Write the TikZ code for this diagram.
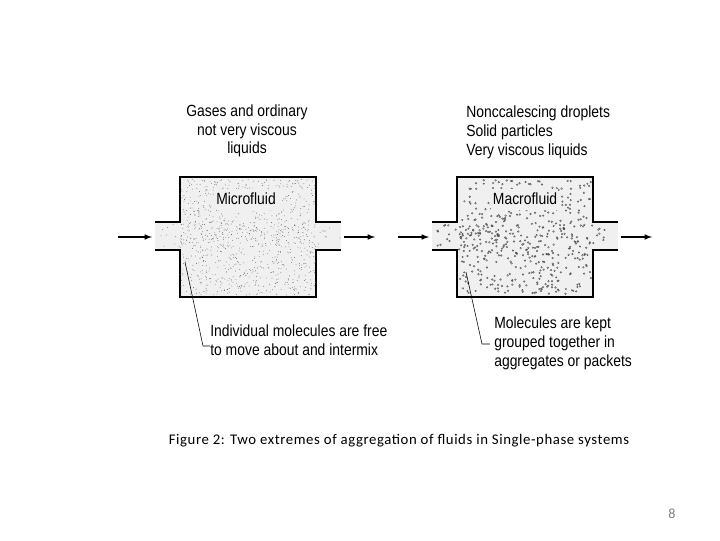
\documentclass[tikz,border=0pt]{standalone}
\usepackage{fontspec}
\setmainfont{Liberation Sans}[FakeStretch=0.86]
\newfontfamily\capfont{Carlito}[LetterSpace=4]
\usetikzlibrary{positioning}

\begin{document}
\begin{tikzpicture}[x=0.025cm, y=-0.025cm,
    wall/.style={line width=1.6pt},
    flow/.style={thick, -latex},
    lbl/.style={font=\fontsize{11.5}{13}\selectfont, align=center, inner sep=0pt},
    note/.style={font=\fontsize{11.5}{13.5}\selectfont, align=left, inner sep=0pt, anchor=west}]
    \useasboundingbox (0,0) rectangle (720,540);
    \pgfmathsetseed{7}

    % vessel outlines (body + pipes)
    \foreach \x/\n in {180/L, 457/R} {
      \fill[gray!12] (\x,177) rectangle ++(136,120);
      \fill[gray!12] (\x-25,222) rectangle ++(186,28);
      \draw[wall] (\x-25,222) -- (\x,222) -- (\x,177) -- (\x+136,177) -- (\x+136,222) -- (\x+161,222);
      \draw[wall] (\x-25,250) -- (\x,250) -- (\x,297) -- (\x+136,297) -- (\x+136,250) -- (\x+161,250);
      \coordinate (in\n) at (\x-28,237);
      \coordinate (out\n) at (\x+164,237);
    }
    % stipple for the microfluid
    \foreach \i in {1,...,900} {
      \fill[black!60] (180+136*rnd,179+116*rnd) circle (0.3pt);
    }
    \foreach \i in {1,...,120} {
      \fill[black!60] (156+184*rnd,224+24*rnd) circle (0.3pt);
    }
    % small blobs for the macrofluid
    \foreach \i in {1,...,450} {
      \draw[black!70, line width=0.25pt] (459+132*rnd,180+114*rnd) circle (0.6pt);
    }
    \foreach \i in {1,...,70} {
      \draw[black!70, line width=0.25pt] (434+180*rnd,225+22*rnd) circle (0.6pt);
    }

    \fill[gray!12] (214,189) rectangle (280,210);
    \fill[gray!12] (491,189) rectangle (558,210);
    \node[lbl] (micro) at (246,199) {Microfluid};
    \node[lbl] (macro) at (525,199) {Macrofluid};

    \node[lbl] (gases) at (247,131) {Gases and ordinary\\not very viscous\\liquids};
    \node[note] (drops) at (466,132) {Nonccalescing droplets\\Solid particles\\Very viscous liquids};

    % flow arrows
    \coordinate (a1) at (118,237);
    \coordinate (a2) at (398,237);
    \draw[flow] (a1) -- (inL);
    \draw[flow] (outL) -- (375,237);
    \draw[flow] (a2) -- (inR);
    \draw[flow] (outR) -- (652,237);

    % notes with leaders
    \node[note] (indiv) at (210,340) {Individual molecules are free\\to move about and intermix};
    \node[note] (kept) at (494,343) {Molecules are kept\\grouped together in\\aggregates or packets};
    \coordinate (pL) at (185,262);
    \coordinate (pR) at (466,272);
    \draw (pL) -- (203,346) -- (indiv.west |- 346,346);
    \draw (pR) -- (482,344) -- (490,344);

    \node[font=\capfont\fontsize{10.5}{13}\selectfont] (cap) at (399,441)
      {Figure 2: Two extremes of aggregation of fluids in Single-phase systems};
    \node[font=\capfont\fontsize{10}{12}\selectfont, text=gray] (page) at (672,514) {8};
\end{tikzpicture}
\end{document}
